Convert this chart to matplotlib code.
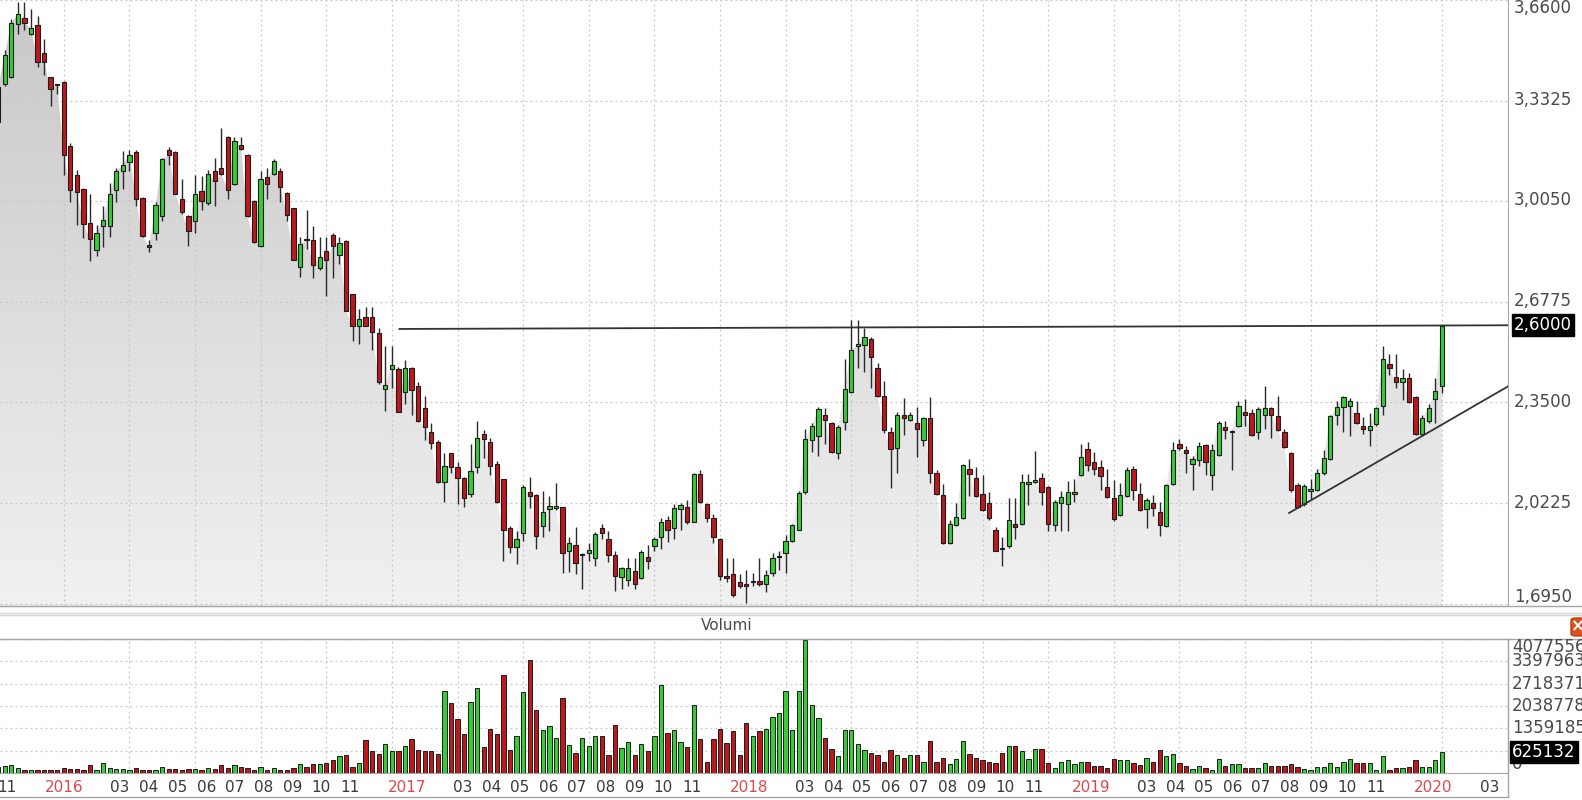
import numpy as np
import pandas as pd
import matplotlib
matplotlib.use("Agg")
import matplotlib.pyplot as plt
import matplotlib.dates as mdates
from matplotlib.colors import LinearSegmentedColormap
from matplotlib.lines import Line2D
from matplotlib.patches import Polygon, FancyBboxPatch

# weekly candles (dated on Friday), the first one is cut by the left edge
first_week = "2015-10-23"
view_start = "2015-10-25 00:00"
view_end = "2020-03-20 12:00"

opens = [
    3.263, 3.385, 3.410, 3.583, 3.603, 3.549, 3.580, 3.486, 3.410, 3.388,
    3.394, 3.186, 3.089, 3.045, 2.935, 2.847, 2.925, 2.925, 3.042, 3.102,
    3.134, 3.165, 3.016, 2.862, 2.903, 2.957, 3.173, 3.165, 3.013, 2.957,
    2.940, 3.039, 2.998, 3.104, 3.114, 3.215, 3.061, 3.187, 3.155, 3.007,
    2.860, 3.083, 3.092, 3.102, 3.032, 2.982, 2.792, 2.881, 2.877, 2.787,
    2.843, 2.894, 2.831, 2.875, 2.702, 2.600, 2.627, 2.629, 2.575, 2.394,
    2.459, 2.459, 2.383, 2.462, 2.402, 2.333, 2.255, 2.220, 2.091, 2.184,
    2.138, 2.104, 2.053, 2.138, 2.247, 2.222, 2.150, 2.100, 1.942, 1.879,
    1.924, 2.058, 2.050, 1.949, 2.003, 2.006, 2.008, 1.867, 1.886, 1.852,
    1.861, 1.844, 1.940, 1.905, 1.854, 1.781, 1.772, 1.801, 1.779, 1.848,
    1.882, 1.911, 1.968, 1.942, 2.003, 2.008, 1.961, 2.116, 2.018, 1.974,
    1.905, 1.784, 1.791, 1.766, 1.758, 1.764, 1.769, 1.760, 1.794, 1.845,
    1.861, 1.898, 1.936, 2.058, 2.226, 2.239, 2.310, 2.283, 2.184, 2.285,
    2.383, 2.535, 2.537, 2.557, 2.462, 2.371, 2.255, 2.201, 2.310, 2.293,
    2.283, 2.226, 2.298, 2.121, 2.050, 1.892, 1.952, 1.974, 2.134, 2.104,
    2.053, 2.021, 1.936, 1.876, 1.882, 1.955, 1.955, 2.085, 2.091, 2.104,
    2.075, 1.952, 2.021, 2.018, 2.053, 2.113, 2.197, 2.157, 2.138, 2.075,
    2.037, 1.983, 2.046, 2.134, 2.053, 2.003, 2.021, 1.993, 1.949, 2.084,
    2.213, 2.194, 2.150, 2.163, 2.210, 2.113, 2.179, 2.270, 2.252, 2.273,
    2.320, 2.314, 2.255, 2.310, 2.333, 2.305, 2.255, 2.184, 2.081, 2.018,
    2.063, 2.066, 2.119, 2.167, 2.310, 2.335, 2.339, 2.314, 2.273, 2.260,
    2.280, 2.339, 2.474, 2.431, 2.415, 2.428, 2.368, 2.247, 2.289, 2.361,
    2.402,
]
highs = [
    3.395, 3.498, 3.599, 3.655, 3.655, 3.631, 3.608, 3.533, 3.410, 3.388,
    3.396, 3.196, 3.108, 3.047, 3.029, 2.928, 2.988, 3.064, 3.114, 3.167,
    3.171, 3.173, 3.018, 2.877, 3.003, 3.145, 3.180, 3.168, 3.076, 2.959,
    3.089, 3.086, 3.108, 3.146, 3.243, 3.217, 3.215, 3.215, 3.157, 3.010,
    3.104, 3.112, 3.142, 3.112, 3.034, 2.984, 2.890, 2.976, 2.925, 2.890,
    2.887, 2.900, 2.890, 2.877, 2.704, 2.654, 2.661, 2.661, 2.591, 2.532,
    2.532, 2.465, 2.487, 2.464, 2.415, 2.371, 2.283, 2.226, 2.184, 2.186,
    2.157, 2.106, 2.213, 2.289, 2.260, 2.235, 2.159, 2.102, 1.949, 1.930,
    2.081, 2.106, 2.052, 2.062, 2.046, 2.087, 2.010, 1.911, 1.945, 1.861,
    1.892, 1.927, 1.955, 1.930, 1.867, 1.814, 1.842, 1.842, 1.869, 1.886,
    1.911, 1.974, 1.980, 2.018, 2.021, 2.031, 2.121, 2.131, 2.021, 1.987,
    1.907, 1.842, 1.842, 1.791, 1.804, 1.794, 1.842, 1.804, 1.861, 1.867,
    1.917, 1.955, 2.062, 2.264, 2.283, 2.335, 2.333, 2.285, 2.276, 2.491,
    2.617, 2.617, 2.591, 2.562, 2.478, 2.421, 2.270, 2.318, 2.365, 2.318,
    2.335, 2.302, 2.368, 2.129, 2.084, 1.968, 2.021, 2.150, 2.167, 2.138,
    2.113, 2.058, 1.945, 1.911, 2.037, 2.037, 2.116, 2.116, 2.192, 2.119,
    2.077, 2.031, 2.062, 2.094, 2.100, 2.213, 2.220, 2.188, 2.163, 2.134,
    2.096, 2.087, 2.138, 2.144, 2.087, 2.037, 2.050, 2.024, 2.084, 2.222,
    2.230, 2.207, 2.176, 2.222, 2.213, 2.213, 2.289, 2.289, 2.260, 2.356,
    2.361, 2.327, 2.335, 2.402, 2.335, 2.371, 2.264, 2.188, 2.087, 2.084,
    2.100, 2.134, 2.194, 2.308, 2.356, 2.371, 2.365, 2.356, 2.302, 2.314,
    2.335, 2.535, 2.509, 2.507, 2.459, 2.444, 2.371, 2.308, 2.346, 2.428,
    2.603,
]
lows = [
    3.220, 3.379, 3.407, 3.549, 3.562, 3.545, 3.442, 3.417, 3.316, 3.354,
    3.089, 3.003, 2.928, 2.885, 2.809, 2.827, 2.856, 2.890, 3.003, 3.045,
    3.102, 2.988, 2.887, 2.840, 2.877, 2.940, 3.124, 3.027, 2.963, 2.860,
    2.903, 2.976, 2.991, 2.988, 3.090, 3.013, 3.058, 3.171, 2.955, 2.870,
    2.856, 3.013, 3.089, 3.003, 2.940, 2.812, 2.759, 2.850, 2.755, 2.780,
    2.696, 2.755, 2.802, 2.646, 2.550, 2.541, 2.598, 2.522, 2.409, 2.323,
    2.396, 2.318, 2.346, 2.310, 2.287, 2.226, 2.197, 2.089, 2.024, 2.119,
    2.018, 2.008, 2.043, 2.121, 2.169, 2.113, 2.022, 1.835, 1.861, 1.823,
    1.898, 2.005, 1.873, 1.911, 1.930, 2.000, 1.794, 1.798, 1.791, 1.741,
    1.835, 1.816, 1.905, 1.829, 1.735, 1.741, 1.753, 1.741, 1.776, 1.806,
    1.867, 1.873, 1.895, 1.905, 1.936, 1.955, 1.959, 2.022, 1.961, 1.892,
    1.772, 1.766, 1.716, 1.747, 1.697, 1.751, 1.753, 1.731, 1.785, 1.804,
    1.794, 1.895, 1.934, 2.053, 2.188, 2.175, 2.213, 2.184, 2.167, 2.260,
    2.381, 2.462, 2.449, 2.396, 2.368, 2.251, 2.071, 2.121, 2.245, 2.289,
    2.172, 2.207, 2.087, 2.050, 1.890, 1.889, 1.949, 1.970, 2.046, 2.043,
    1.995, 1.968, 1.865, 1.816, 1.877, 1.905, 1.952, 2.016, 2.087, 2.016,
    1.932, 1.932, 1.932, 1.932, 2.024, 2.109, 2.125, 2.113, 2.066, 2.037,
    1.965, 1.980, 2.041, 2.031, 1.995, 1.940, 1.980, 1.915, 1.945, 2.081,
    2.194, 2.121, 2.066, 2.144, 2.113, 2.066, 2.176, 2.232, 2.131, 2.270,
    2.273, 2.239, 2.232, 2.264, 2.235, 2.257, 2.201, 2.058, 2.005, 2.012,
    2.031, 2.062, 2.113, 2.163, 2.276, 2.255, 2.242, 2.280, 2.247, 2.207,
    2.273, 2.308, 2.440, 2.396, 2.358, 2.348, 2.245, 2.239, 2.283, 2.283,
    2.381,
]
closes = [
    3.376, 3.480, 3.584, 3.614, 3.585, 3.568, 3.457, 3.457, 3.370, 3.383,
    3.155, 3.042, 3.036, 2.931, 2.881, 2.900, 2.944, 3.029, 3.102, 3.124,
    3.156, 3.013, 2.892, 2.857, 2.991, 3.142, 3.155, 3.029, 2.969, 2.909,
    3.029, 3.007, 3.092, 3.070, 3.092, 3.042, 3.202, 3.175, 2.957, 2.872,
    3.076, 3.061, 3.137, 3.051, 2.961, 2.814, 2.865, 2.879, 2.797, 2.822,
    2.814, 2.860, 2.869, 2.648, 2.598, 2.620, 2.600, 2.579, 2.415, 2.406,
    2.472, 2.320, 2.462, 2.390, 2.289, 2.270, 2.217, 2.091, 2.144, 2.138,
    2.104, 2.037, 2.125, 2.235, 2.230, 2.144, 2.024, 1.936, 1.879, 1.905,
    2.075, 2.046, 1.915, 1.993, 2.014, 2.011, 1.861, 1.892, 1.827, 1.857,
    1.869, 1.920, 1.924, 1.854, 1.785, 1.810, 1.810, 1.760, 1.864, 1.832,
    1.905, 1.961, 1.936, 2.005, 2.016, 1.961, 2.116, 2.024, 1.974, 1.911,
    1.785, 1.779, 1.722, 1.751, 1.753, 1.769, 1.760, 1.789, 1.844, 1.850,
    1.898, 1.952, 2.056, 2.230, 2.273, 2.330, 2.293, 2.188, 2.270, 2.393,
    2.522, 2.540, 2.562, 2.499, 2.371, 2.260, 2.197, 2.310, 2.300, 2.310,
    2.264, 2.298, 2.121, 2.053, 1.892, 1.955, 1.978, 2.147, 2.116, 2.046,
    1.999, 1.974, 1.867, 1.871, 1.968, 1.945, 2.091, 2.090, 2.096, 2.058,
    1.955, 2.024, 2.043, 2.058, 2.058, 2.172, 2.147, 2.134, 2.109, 2.043,
    1.970, 2.050, 2.129, 2.066, 1.999, 2.031, 2.005, 1.952, 2.081, 2.194,
    2.201, 2.184, 2.167, 2.207, 2.157, 2.194, 2.283, 2.260, 2.257, 2.339,
    2.310, 2.245, 2.330, 2.333, 2.310, 2.260, 2.204, 2.066, 2.008, 2.079,
    2.068, 2.121, 2.169, 2.305, 2.335, 2.368, 2.356, 2.283, 2.263, 2.273,
    2.333, 2.491, 2.462, 2.415, 2.428, 2.352, 2.247, 2.298, 2.333, 2.386,
    2.600,
]
# weekly volume, thousands of shares
volumes_k = [
    183, 204, 234, 163, 80, 80, 80, 80, 80, 80,
    150, 120, 120, 80, 234, 100, 305, 150, 120, 120,
    80, 150, 80, 80, 80, 183, 120, 120, 80, 120,
    120, 80, 150, 120, 255, 163, 234, 183, 150, 100,
    183, 80, 150, 80, 80, 150, 265, 183, 265, 265,
    316, 387, 509, 540, 183, 305, 998, 672, 591, 897,
    672, 672, 825, 1029, 713, 672, 672, 591, 2506, 2119,
    1630, 1182, 2160, 2588, 795, 1345, 1182, 2996, 713, 1141,
    2476, 3434, 1916, 1304, 1426, 1060, 2272, 866, 622, 1060,
    825, 1141, 1141, 540, 1467, 774, 937, 540, 897, 672,
    1141, 2669, 1223, 1304, 937, 785, 2058, 1029, 346, 1029,
    1345, 907, 1274, 540, 1508, 1141, 1263, 1345, 1712, 1834,
    2506, 1304, 2506, 4035, 2068, 1661, 1070, 744, 509, 1304,
    1304, 897, 713, 622, 540, 346, 713, 540, 458, 540,
    540, 346, 978, 346, 458, 265, 418, 978, 591, 458,
    387, 346, 305, 622, 825, 825, 672, 418, 744, 744,
    305, 153, 346, 387, 265, 346, 346, 224, 224, 153,
    418, 387, 408, 305, 234, 458, 336, 713, 509, 591,
    305, 224, 132, 224, 153, 102, 418, 224, 265, 265,
    153, 153, 153, 305, 224, 224, 224, 265, 184, 132,
    102, 183, 183, 305, 183, 346, 428, 305, 305, 305,
    102, 509, 102, 153, 153, 183, 387, 183, 183, 387,
    625.132,
]

price_ticks = [1.695, 2.0225, 2.35, 2.6775, 3.005, 3.3325, 3.66]
price_tick_labels = ["1,6950", "2,0225", "2,3500", "2,6775", "3,0050", "3,3325", "3,6600"]
last_price = 2.60
last_price_label = "2,6000"

volume_ticks = [0, 679593, 1359185, 2038778, 2718371, 3397963, 4077556]
volume_tick_labels = ["0", "", "1359185", "2038778", "2718371", "3397963", "4077556"]
last_volume = 625132
last_volume_label = "625132"

# lines drawn by hand on the chart
resistance_dates = ["2016-12-24 00:00", "2020-03-20 12:00"]
resistance_prices = [2.589, 2.601]
trend_dates = ["2019-07-31 00:00", "2020-03-20 12:00"]
trend_prices = [1.990, 2.402]

month_ticks = ["2015-11-01"]
month_labels = ["11"]
for year in [2016, 2017, 2018, 2019]:
    month_ticks.append(f"{year}-01-01")
    month_labels.append(str(year))
    for m in range(3, 12):
        month_ticks.append(f"{year}-{m:02d}-01")
        month_labels.append(f"{m:02d}")
month_ticks += ["2020-01-01", "2020-03-01"]
month_labels += ["2020", "03"]

GREEN = "#36cc36"
RED = "#bd181c"
GRID = "#c6c6c6"
BORDER = "#a6a6a6"
TXT = "#4a4a4a"

W, H = 1582, 800
fig = plt.figure(figsize=(W / 100, H / 100), dpi=100, facecolor="white")


def box(left, top, right, bottom):
    return [left / W, 1 - bottom / H, (right - left) / W, (bottom - top) / H]


def ftext(px, py, s, **kw):
    fig.text(px / W, 1 - py / H, s, **kw)


def hline(py, x0=0, x1=W, color=BORDER, lw=1.0):
    fig.add_artist(Line2D([x0 / W, x1 / W], [1 - py / H, 1 - py / H],
                          transform=fig.transFigure, color=color, lw=lw))


def vline(px, y0, y1, color=BORDER, lw=1.0):
    fig.add_artist(Line2D([px / W, px / W], [1 - y0 / H, 1 - y1 / H],
                          transform=fig.transFigure, color=color, lw=lw))


def to_num(strings):
    return np.array([mdates.date2num(pd.Timestamp(s).to_pydatetime()) for s in strings])


P_TOP, P_BOT = 0, 606
V_TOP, V_BOT = 639, 773
X_RIGHT = 1508
ybot, ytop = 1.687, 3.656
vmax = 4077556

ax = fig.add_axes(box(0, P_TOP, X_RIGHT, P_BOT))
axv = fig.add_axes(box(0, V_TOP, X_RIGHT, V_BOT))

dates = pd.date_range(first_week, periods=len(closes), freq="7D")
x = mdates.date2num(dates.to_pydatetime())
o = np.array(opens)
h = np.array(highs)
l = np.array(lows)
c = np.array(closes)
vol = np.array(volumes_k) * 1000
up = c >= o
colors = np.where(up, GREEN, RED)
xl = tuple(to_num([view_start, view_end]))

# shaded area under the closes
verts = np.column_stack([np.r_[x, x[-1], x[0]], np.r_[c, ybot, ybot]])
area = Polygon(verts, closed=True, fc="none", ec="none")
ax.add_patch(area)
grad = np.linspace(0, 1, 256).reshape(-1, 1)
cmap = LinearSegmentedColormap.from_list("area", ["#f1f1f1", "#c8c8c8"])
im = ax.imshow(grad, extent=[x[0], x[-1], ybot, ytop], origin="lower", aspect="auto",
               cmap=cmap, zorder=0.2, interpolation="bilinear")
im.set_clip_path(area)

# candles
ax.vlines(x, l, h, color="#2a2a2a", lw=1.0, zorder=2)
ax.bar(x, np.abs(c - o), bottom=np.minimum(o, c), width=4.6, color=colors,
       edgecolor="#1c1c1c", linewidth=0.8, zorder=3)

ax.plot(to_num(resistance_dates), resistance_prices, color="#333333", lw=1.3, zorder=4)
ax.plot(to_num(trend_dates), trend_prices, color="#333333", lw=1.3, zorder=4)

ax.set_xlim(xl)
ax.set_ylim(ybot, ytop)
ax.set_yticks(price_ticks)
ax.set_xticks(x[10::10])
ax.set_axisbelow(True)
ax.grid(True, color=GRID, linestyle=(0, (1.5, 2.5)), linewidth=0.9)
ax.tick_params(length=0, labelleft=False, labelbottom=False)
for s in ["top", "left"]:
    ax.spines[s].set_visible(False)
for s in ["right", "bottom"]:
    ax.spines[s].set_color(BORDER)

# volume
axv.bar(x, vol, width=4.6, color=colors, edgecolor="#1c1c1c", linewidth=0.7, zorder=3)
axv.set_xlim(xl)
axv.set_ylim(0, vmax)
axv.set_yticks(volume_ticks)
axv.set_xticks(to_num(month_ticks))
axv.set_xticklabels(month_labels, fontsize=11)
axv.set_xticks(x[10::10], minor=True)
axv.set_axisbelow(True)
axv.grid(True, which="minor", axis="x", color=GRID, linestyle=(0, (1.5, 2.5)), linewidth=0.9)
axv.grid(True, which="major", axis="y", color=GRID, linestyle=(0, (1.5, 2.5)), linewidth=0.9)
axv.tick_params(which="both", length=0, labelleft=False, pad=5)
for lab in axv.get_xticklabels():
    lab.set_color("#e2474b" if len(lab.get_text()) == 4 else "#3a3a3a")
axv.spines["left"].set_visible(False)
for s in ["top", "right", "bottom"]:
    axv.spines[s].set_color(BORDER)

# frame lines between the panes
hline(P_BOT)
hline(613, color="#d6d6d6")
hline(615, color="#d6d6d6")
hline(V_TOP)
hline(797, x1=X_RIGHT)
vline(X_RIGHT, V_TOP, 797)
ftext(727, 626, "Volumi", fontsize=11, color=TXT, ha="center", va="center")
fig.add_artist(FancyBboxPatch((1571 / W, 1 - 636 / H), 16 / W, 18 / H,
                              boxstyle="round,pad=0,rounding_size=0.003",
                              transform=fig.transFigure, fc="#d9531e", ec="#b8400f"))
ftext(1578, 626, "×", fontsize=12, color="white", fontweight="bold", ha="center", va="center")

# right-hand labels
for v, s in zip(price_ticks, price_tick_labels):
    py = P_TOP + (ytop - v) / (ytop - ybot) * (P_BOT - P_TOP)
    py = min(max(py, 8), P_BOT - 9)
    ftext(1514, py, s, fontsize=12, color=TXT, va="center", ha="left")
py = P_TOP + (ytop - last_price) / (ytop - ybot) * (P_BOT - P_TOP)
ftext(1514, py, last_price_label, fontsize=12, color="white", va="center", ha="left",
      bbox=dict(boxstyle="square,pad=0.12", fc="black", ec="black"))

for v, s in zip(volume_ticks, volume_tick_labels):
    if not s:
        continue
    py = V_BOT - v / vmax * (V_BOT - V_TOP)
    py = min(max(py, V_TOP + 8), V_BOT - 9)
    ftext(1512, py, s, fontsize=12, color=TXT, va="center", ha="left")
py = V_BOT - last_volume / vmax * (V_BOT - V_TOP)
ftext(1512, py, last_volume_label, fontsize=12, color="white", va="center", ha="left",
      bbox=dict(boxstyle="square,pad=0.12", fc="black", ec="black"))

fig.savefig("out.png", dpi=100, facecolor="white")
